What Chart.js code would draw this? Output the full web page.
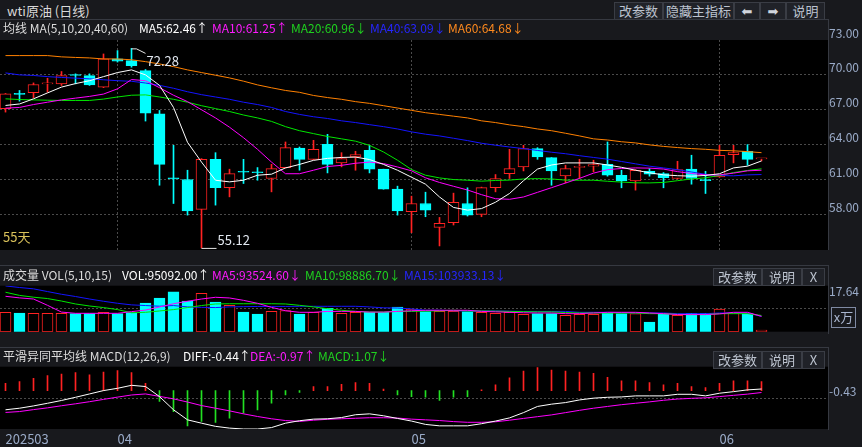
<!DOCTYPE html>
<html>
<head>
<meta charset="utf-8">
<script src="https://cdn.jsdelivr.net/npm/chart.js@4.4.0/dist/chart.umd.min.js"></script>
<style>
body{margin:0;background:#18191d;width:862px;height:447px;overflow:hidden;position:relative;font-family:"Noto Sans CJK SC","Noto Sans",sans-serif;}
canvas{position:absolute;left:0;background:#18191d;}
.t{position:absolute;font-size:12px;white-space:nowrap;line-height:14px;z-index:2;}
.btn{position:absolute;height:18px;border:1px solid #3a3d45;background:#202228;color:#bcc3cf;font-size:13px;text-align:center;line-height:16px;box-sizing:border-box;z-index:2;}
.ln{position:absolute;background:#363941;z-index:2;}
.ar{font-family:"DejaVu Sans";font-size:13px;}
</style>
</head>
<body>
<div class="t" style="left:7px;top:4px;font-size:13px;color:#d8d8d8">wti原油 (日线)</div>
<div class="btn" style="left:614px;top:2px;width:49px">改参数</div>
<div class="btn" style="left:663px;top:2px;width:71px">隐藏主指标</div>
<div class="btn" style="left:734px;top:2px;width:26px"><span class="ar" style="color:#d0d4dc">⬅</span></div>
<div class="btn" style="left:760px;top:2px;width:26px"><span class="ar" style="color:#d0d4dc">➡</span></div>
<div class="btn" style="left:786px;top:2px;width:39px">说明</div>
<div class="ln" style="left:0;top:19px;width:829px;height:1px"></div>
<div class="ln" style="left:828px;top:19px;width:1px;height:231px"></div>

<div class="t" style="left:3px;top:21px;color:#dcdcdc">均线 MA(5,10,20,40,60)</div>
<div class="t" style="left:139px;top:21px;color:#ffffff">MA5:62.46↑</div>
<div class="t" style="left:212px;top:21px;color:#ff1aff">MA10:61.25↑</div>
<div class="t" style="left:291px;top:21px;color:#1fd21f">MA20:60.96↓</div>
<div class="t" style="left:370px;top:21px;color:#2626ff">MA40:63.09↓</div>
<div class="t" style="left:448px;top:21px;color:#ff8a1e">MA60:64.68↓</div>
<div class="t" style="left:3px;top:230px;font-size:13px;color:#d9c15a">55天</div>

<div class="ln" style="left:0;top:265px;width:829px;height:1px"></div>
<div class="ln" style="left:828px;top:265px;width:1px;height:69px"></div>
<div class="t" style="left:3px;top:268px;color:#dcdcdc">成交量 VOL(5,10,15)</div>
<div class="t" style="left:122px;top:268px;color:#ffffff">VOL:95092.00↑</div>
<div class="t" style="left:212px;top:268px;color:#ff1aff">MA5:93524.60↓</div>
<div class="t" style="left:305px;top:268px;color:#1fd21f">MA10:98886.70↓</div>
<div class="t" style="left:404px;top:268px;color:#2626ff">MA15:103933.13↓</div>
<div class="btn" style="left:713px;top:268px;width:49px">改参数</div>
<div class="btn" style="left:762px;top:268px;width:40px">说明</div>
<div class="btn" style="left:802px;top:268px;width:23px">X</div>
<div class="t" style="left:831px;top:307px;width:23px;height:19px;border:1px solid #7f8aa3;color:#aab6cf;font-size:13px;line-height:18px;text-align:center">x万</div>

<div class="ln" style="left:0;top:347px;width:829px;height:1px"></div>
<div class="ln" style="left:828px;top:347px;width:1px;height:83px"></div>
<div class="t" style="left:3px;top:349px;color:#dcdcdc">平滑异同平均线 MACD(12,26,9)</div>
<div class="t" style="left:183px;top:349px;color:#ffffff">DIFF:-0.44↑</div>
<div class="t" style="left:250px;top:349px;color:#ff1aff">DEA:-0.97↑</div>
<div class="t" style="left:318px;top:349px;color:#1fd21f">MACD:1.07↓</div>
<div class="btn" style="left:713px;top:351px;width:49px">改参数</div>
<div class="btn" style="left:762px;top:351px;width:40px">说明</div>
<div class="btn" style="left:802px;top:351px;width:23px">X</div>

<canvas id="mainChart" width="862" height="240" style="top:22px"></canvas>
<canvas id="volChart" width="862" height="72" style="top:262px"></canvas>
<canvas id="macdChart" width="862" height="102" style="top:345px"></canvas>

<script>
// daily candles, index 0 = first day shown
const openP=[67.09,68.42,68.46,69.22,69.23,70.0,69.94,68.94,71.37,71.23,
70.37,66.66,61.12,61.0,58.43,62.74,60.31,61.7,61.62,61.09,
62.03,63.71,62.74,64.03,62.43,62.94,63.51,61.89,60.17,58.23,
58.94,56.89,57.29,58.94,58.0,60.31,61.51,62.09,63.66,62.89,
61.31,62.05,62.14,62.31,61.37,60.89,61.71,61.51,61.09,61.89,
60.97,61.23,63.14,63.43,62.78];
const closeP=[68.37,68.33,69.17,69.29,69.94,69.95,69.14,71.37,71.17,70.8,
66.71,62.31,61.06,58.31,62.74,60.29,61.51,61.63,61.58,61.94,
63.74,62.74,63.6,62.31,62.8,63.14,61.89,60.17,58.31,58.94,
58.37,57.23,59.03,57.94,60.31,61.09,61.94,63.66,62.94,61.74,
61.94,62.11,62.29,61.37,60.89,61.8,61.46,61.17,61.86,61.09,
60.91,63.09,63.31,62.74,62.82];
const highP=[68.4,68.66,69.31,69.71,70.29,70.09,70.09,71.8,72.09,72.28,
70.46,66.94,63.94,61.8,62.8,63.31,61.89,62.74,62.03,62.31,
64.23,63.8,64.37,64.89,63.31,63.43,63.94,61.89,60.43,59.57,
59.91,57.74,59.83,60.29,60.35,61.43,63.6,63.94,63.74,62.89,
62.23,62.74,62.66,64.23,61.8,61.85,61.94,61.6,62.57,63.09,
61.71,63.94,63.94,64.0,62.82];
const lowP=[66.8,67.74,68.03,68.51,69.09,69.23,69.09,68.9,71.1,70.66,
66.03,60.51,58.94,57.94,55.12,58.8,59.51,60.66,60.94,59.94,
62.0,61.8,62.7,61.57,62.09,61.8,61.57,60.17,57.94,56.43,
57.8,55.29,57.09,57.86,57.8,59.94,61.09,61.74,62.74,60.51,
60.71,61.09,61.66,61.29,60.29,60.09,61.29,60.29,61.05,60.6,
59.8,61.2,62.43,62.23,62.6];
const ma5=[67.37,67.5,67.94,68.45,68.95,69.25,69.5,69.85,70.2,70.43,
70.0,69.1,67.2,64.2,62.5,60.94,60.8,60.94,61.37,61.46,
62.0,62.3,62.65,62.82,62.9,62.93,62.72,62.3,61.8,61.2,
60.6,59.5,58.6,58.37,58.5,59.05,59.8,60.9,61.9,62.25,
62.43,62.43,62.43,62.25,62.05,61.8,61.58,61.4,61.33,61.29,
61.35,61.5,62.0,62.15,62.6];
const ma10=[67.14,67.2,67.45,67.65,67.85,68.0,68.15,68.35,68.8,69.6,
69.5,68.9,68.25,67.7,67.0,66.3,65.5,64.6,63.6,62.5,
61.5,61.5,61.8,62.12,62.22,62.4,62.5,62.37,62.08,61.75,
61.15,60.75,60.42,60.1,59.7,59.35,59.3,59.5,59.9,60.3,
60.7,61.1,61.55,61.85,61.95,62.0,61.98,61.9,61.68,61.52,
61.4,61.4,61.55,61.75,61.8];
const ma20=[67.94,67.88,67.85,67.82,67.8,67.8,67.8,67.92,68.1,68.25,
68.28,68.1,67.9,67.65,67.35,67.1,66.85,66.55,66.3,66.0,
65.55,65.2,64.95,64.7,64.5,64.3,63.94,63.37,62.66,61.86,
61.37,61.14,61.0,60.94,60.86,60.92,60.95,61.05,61.08,61.05,
60.95,60.94,60.94,60.85,60.78,60.72,60.71,60.75,60.9,61.05,
61.15,61.35,61.6,61.78,61.92];
const ma40=[70.17,70.0,69.95,69.85,69.78,69.72,69.66,69.58,69.5,69.45,
69.3,69.1,68.85,68.55,68.3,68.1,67.9,67.65,67.45,67.2,
66.85,66.6,66.4,66.25,66.05,65.9,65.72,65.55,65.35,65.1,
64.9,64.75,64.55,64.35,64.12,63.95,63.8,63.66,63.5,63.35,
63.22,63.05,62.9,62.75,62.55,62.35,62.15,62.0,61.85,61.65,
61.45,61.35,61.32,61.4,61.43];
const ma60=[71.66,71.66,71.66,71.66,71.55,71.5,71.46,71.37,71.37,71.3,
71.14,70.94,70.71,70.43,70.2,69.97,69.74,69.46,69.14,68.89,
68.66,68.5,68.23,68.05,67.9,67.7,67.55,67.35,67.15,66.95,
66.75,66.6,66.45,66.3,66.05,65.9,65.7,65.55,65.35,65.2,
64.98,64.75,64.5,64.4,64.25,64.15,63.98,63.85,63.75,63.66,
63.6,63.51,63.47,63.4,63.31];

// volume in 万
const vol=[8.59,8.3,8.15,8.15,8.15,8.0,8.0,8.59,8.0,8.44,
12.74,14.96,17.64,13.63,17.04,13.19,11.7,8.74,7.85,9.04,
9.4,7.85,8.59,10.37,8.15,8.59,8.59,8.59,10.96,10.07,
8.89,9.04,9.04,8.89,8.59,8.15,8.59,7.7,8.0,8.0,
7.26,7.7,7.7,8.15,8.0,8.0,4.3,7.7,7.26,8.15,
8.15,10.07,8.3,8.0,0.74];
const volMa5=[15.7,15.0,14.5,11.7,8.7,8.15,8.15,8.15,8.15,8.9,
9.6,10.96,12.4,13.5,14.5,15.26,14.96,13.9,12.6,10.8,
9.3,8.6,8.6,9.0,9.0,9.0,8.7,8.7,9.0,9.3,
9.5,9.5,9.5,9.5,9.0,8.8,8.6,8.4,8.3,8.3,
8.0,8.0,8.3,8.6,8.6,8.6,8.3,8.0,7.6,7.6,
7.6,7.9,8.6,8.6,6.8];
const volMa10=[17.5,16.1,15.3,14.7,13.6,12.3,11.4,10.7,9.8,8.4,
8.6,9.2,9.8,10.7,11.6,12.3,12.4,12.4,12.4,12.4,
12.3,11.7,11.0,10.2,9.5,9.0,8.7,8.7,9.0,9.0,
9.2,9.2,9.5,9.2,9.2,9.1,9.0,8.9,8.8,8.8,
8.5,8.3,8.3,8.3,8.3,8.3,8.0,8.0,7.7,7.6,
7.6,8.0,8.0,8.0,7.2];
const volMa15=[20.3,19.6,19.0,17.8,16.6,15.6,14.5,13.5,12.6,11.9,
11.6,11.3,11.6,11.0,10.8,10.7,11.0,11.1,11.2,11.2,
11.2,11.26,11.26,11.26,11.26,11.26,11.0,10.6,10.5,10.1,
9.5,9.5,9.3,9.2,9.2,9.2,9.1,9.0,9.0,9.0,
9.0,8.6,8.6,8.6,8.5,8.3,8.3,8.3,8.0,8.0,
8.0,8.3,8.3,8.3,6.8];

// MACD
const diff=[-1.09,-1.0,-0.87,-0.72,-0.56,-0.38,-0.19,0.0,0.13,0.3,
0.23,-0.34,-1.09,-1.66,-1.85,-2.03,-2.13,-2.18,-2.18,-2.1,
-1.85,-1.71,-1.62,-1.6,-1.53,-1.37,-1.32,-1.43,-1.58,-1.73,
-1.92,-2.0,-2.0,-2.0,-1.88,-1.73,-1.55,-1.25,-0.9,-0.77,
-0.68,-0.53,-0.43,-0.38,-0.36,-0.3,-0.3,-0.3,-0.21,-0.21,
-0.3,-0.15,-0.06,0.04,0.09];
const dea=[-1.24,-1.19,-1.08,-0.98,-0.86,-0.75,-0.63,-0.5,-0.37,-0.25,
-0.19,-0.33,-0.47,-0.65,-0.85,-1.0,-1.15,-1.32,-1.47,-1.6,
-1.7,-1.75,-1.68,-1.63,-1.6,-1.57,-1.54,-1.54,-1.56,-1.62,
-1.66,-1.7,-1.76,-1.8,-1.8,-1.77,-1.68,-1.58,-1.48,-1.38,
-1.25,-1.12,-1.0,-0.9,-0.8,-0.72,-0.64,-0.55,-0.48,-0.44,
-0.41,-0.34,-0.27,-0.2,-0.11];
const macdHist=[0.41,0.51,0.70,0.85,0.94,1.02,0.89,1.05,1.13,1.02,
0.41,-0.62,-1.19,-2.0,-1.75,-1.81,-1.56,-1.28,-1.09,-0.72,
-0.24,-0.11,0.23,0.23,0.36,0.45,0.41,0.09,-0.24,-0.34,
-0.38,-0.56,-0.38,-0.34,0.04,0.32,0.73,1.11,1.30,1.17,
1.11,1.05,0.98,0.75,0.55,0.55,0.45,0.32,0.41,0.23,
0.17,0.41,0.55,0.55,0.51];

const priceTicks=[58,61,64,67,70,73];
const volTicks=[10.5,17.64];
const macdTicks=[-0.43];
const monthIdx=[0,8,29,51];
const monthLabels=['202503','04','05','06'];

const FONT='"Noto Sans CJK SC", "Noto Sans", sans-serif';
const RED='#ff2222', CYAN='#00ffff', MGREEN='#22e022';
const GRID='#4a4a4a', AXIS_TXT='#9aabc8';

const up=openP.map((o,i)=>closeP[i]>=o);
const pts=arr=>arr.map((v,i)=>({x:i,y:v}));
const line=(label,arr,color)=>({type:'line',label,data:pts(arr),borderColor:color,borderWidth:1,pointRadius:0,tension:0,order:1});
const noPad=s=>{s.paddingLeft=0;s.paddingRight=0;s.paddingTop=0;s.paddingBottom=0;};

const bgPlugin={
  id:'bg',
  beforeDraw(chart){
    const {ctx,chartArea:a}=chart;
    ctx.save();
    ctx.fillStyle='#000';
    ctx.fillRect(a.left,a.top,a.right-a.left,a.bottom-a.top);
    ctx.restore();
  }
};

// high / low price notes
const markPlugin={
  id:'marks',
  afterDatasetsDraw(chart){
    const {ctx,scales:{x,y}}=chart;
    const hi=Math.max(...highP), lo=Math.min(...lowP);
    ctx.save();
    ctx.strokeStyle='#e6e6e6'; ctx.fillStyle='#e2e8f0'; ctx.lineWidth=1;
    ctx.font='13px '+FONT; ctx.textBaseline='middle';
    let px=x.getPixelForValue(highP.indexOf(hi)), py=y.getPixelForValue(hi);
    ctx.beginPath(); ctx.moveTo(px,py+0.5); ctx.lineTo(px+5,py+0.5); ctx.lineTo(px+14,py+5); ctx.stroke();
    ctx.fillText(hi.toFixed(2),px+15,py+13);
    px=x.getPixelForValue(lowP.indexOf(lo)); py=y.getPixelForValue(lo);
    ctx.beginPath(); ctx.moveTo(px,py+0.5); ctx.lineTo(px+15,py+0.5); ctx.stroke();
    ctx.fillText(lo.toFixed(2),px+16,py-8);
    ctx.restore();
  }
};

function xAxis(gridOn){
  return {
    type:'linear',min:-0.393,max:58.75,bounds:'data',offset:false,
    afterBuildTicks:s=>{s.ticks=monthIdx.slice(1).map(v=>({value:v}));},
    ticks:{display:false},
    grid:{display:gridOn,offset:false,color:GRID,drawTicks:false},
    border:{display:false,dash:[2,2]},
    afterFit:s=>{s.height=0;noPad(s);}
  };
}

const baseOpts={responsive:false,animation:false,events:[],plugins:{legend:{display:false},tooltip:{enabled:false}}};

new Chart(document.getElementById('mainChart'),{
  type:'bar',
  data:{datasets:[
    {label:'wick',data:highP.map((h,i)=>({x:i,y:[lowP[i],h]})),backgroundColor:up.map(u=>u?RED:CYAN),barThickness:1,grouped:false,order:3},
    {label:'body',data:openP.map((o,i)=>({x:i,y:[o,closeP[i]]})),backgroundColor:up.map(u=>u?'#000':CYAN),borderColor:up.map(u=>u?RED:CYAN),
     borderWidth:1,borderSkipped:false,barThickness:11,minBarLength:1,grouped:false,order:2},
    line('MA5',ma5,'#ffffff'),
    line('MA10',ma10,'#ff00ff'),
    line('MA20',ma20,'#00e600'),
    line('MA40',ma40,'#1414ff'),
    line('MA60',ma60,'#ff8000')
  ]},
  options:{...baseOpts,
    layout:{padding:{top:18,bottom:12,left:0,right:0}},
    scales:{
      x:xAxis(true),
      y:{position:'right',min:54.94,max:73,bounds:'data',
        afterBuildTicks:s=>{s.ticks=priceTicks.map(v=>({value:v}));},
        afterFit:s=>{s.width=34;noPad(s);},
        ticks:{color:AXIS_TXT,font:{size:12,family:FONT},padding:1,labelOffset:-7,callback:v=>v.toFixed(2)},
        grid:{color:c=>(c.tick&&c.tick.value===73)?'rgba(0,0,0,0)':GRID,drawTicks:false},
        border:{display:false,dash:[2,2]}}
    }
  },
  plugins:[bgPlugin,markPlugin]
});

new Chart(document.getElementById('volChart'),{
  type:'bar',
  data:{datasets:[
    {label:'VOL',data:pts(vol),backgroundColor:up.map(u=>u?'#000':CYAN),borderColor:up.map(u=>u?RED:CYAN),
     borderWidth:1,borderSkipped:false,barThickness:11,grouped:false,order:2},
    line('MA5',volMa5,'#ff00ff'),
    line('MA10',volMa10,'#00e600'),
    line('MA15',volMa15,'#1414ff')
  ]},
  options:{...baseOpts,
    layout:{padding:{top:23.7,bottom:2.3,left:0,right:0}},
    scales:{
      x:xAxis(false),
      y:{position:'right',min:0,max:20.4,bounds:'data',
        afterBuildTicks:s=>{s.ticks=volTicks.map(v=>({value:v}));},
        afterFit:s=>{s.width=34;noPad(s);},
        ticks:{color:AXIS_TXT,font:{size:12,family:FONT},padding:1,callback:v=>v===17.64?v.toFixed(2):''},
        grid:{color:c=>(c.tick&&c.tick.value===10.5)?GRID:'rgba(0,0,0,0)',drawTicks:false},
        border:{display:false,dash:[2,2]}}
    }
  },
  plugins:[bgPlugin]
});

new Chart(document.getElementById('macdChart'),{
  type:'bar',
  data:{datasets:[
    {label:'MACD',data:pts(macdHist),backgroundColor:macdHist.map(v=>v>=0?RED:MGREEN),barThickness:1,grouped:false,order:2},
    line('DIFF',diff,'#ffffff'),
    line('DEA',dea,'#ff00ff')
  ]},
  options:{...baseOpts,
    layout:{padding:{top:21.7,bottom:0,left:0,right:0}},
    scales:{
      x:{type:'linear',min:-0.393,max:58.75,bounds:'data',offset:false,
        afterBuildTicks:s=>{s.ticks=monthIdx.map(v=>({value:v}));},
        afterFit:s=>{s.height=18;noPad(s);},
        ticks:{color:AXIS_TXT,font:{size:13,family:FONT},padding:2,align:'start',maxRotation:0,autoSkip:false,
          callback:v=>monthLabels[monthIdx.indexOf(v)]},
        grid:{display:false,offset:false,drawTicks:false},
        border:{display:false}},
      y:{position:'right',min:-2.18,max:1.356,bounds:'data',
        afterBuildTicks:s=>{s.ticks=macdTicks.map(v=>({value:v}));},
        afterFit:s=>{s.width=34;noPad(s);},
        ticks:{color:AXIS_TXT,font:{size:12,family:FONT},padding:1,labelOffset:-7,callback:v=>v.toFixed(2)},
        grid:{color:GRID,drawTicks:false},
        border:{display:false,dash:[2,2]}}
    }
  },
  plugins:[bgPlugin]
});
</script>
</body>
</html>
